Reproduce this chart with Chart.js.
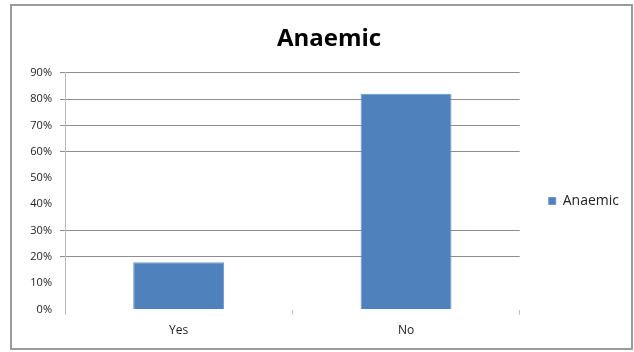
<!DOCTYPE html>
<html>
<head>
<meta charset="utf-8">
<script src="https://cdn.jsdelivr.net/npm/chart.js@4/dist/chart.umd.min.js"></script>
<style>
  html, body { margin: 0; padding: 0; background: #fff; }
  #wrap { position: relative; width: 634px; height: 352px; }
</style>
</head>
<body>
<div id="wrap"><canvas id="c" width="634" height="352"></canvas></div>
<script>
// Chart data
const categories = ['Yes', 'No'];
const anaemicShare = [18, 82];      // percent of respondents
const seriesName = 'Anaemic';
const yTicks = [0, 10, 20, 30, 40, 50, 60, 70, 80, 90];
const gridLevels = [20, 30, 60, 70, 80, 90];   // levels that carry a gridline

const FONT = "'Open Sans', 'Liberation Sans', sans-serif";

// Frame around the whole chart
const framePlugin = {
  id: 'frame',
  beforeDraw(chart) {
    const ctx = chart.ctx;
    ctx.save();
    ctx.fillStyle = '#fff';
    ctx.fillRect(0, 0, chart.width, chart.height);
    ctx.strokeStyle = '#9a9a9a';
    ctx.lineWidth = 2;
    ctx.strokeRect(11, 5, 621, 344);
    ctx.restore();
  }
};

new Chart(document.getElementById('c'), {
  type: 'bar',
  data: {
    labels: categories,
    datasets: [{
      label: seriesName,
      data: anaemicShare,
      backgroundColor: '#4f81bd',
      borderColor: '#6e98cb',
      borderWidth: 1,
      barPercentage: 0.4,
      categoryPercentage: 1.0
    }]
  },
  options: {
    responsive: false,
    animation: false,
    devicePixelRatio: 1,
    layout: { padding: { left: 29, right: 5, top: 0, bottom: 5 } },
    plugins: {
      title: {
        display: true,
        text: 'Anaemic',
        color: '#000',
        font: { family: FONT, size: 24, weight: 'bold' },
        padding: { top: 25, bottom: 19 }
      },
      legend: {
        display: true,
        position: 'right',
        align: 'center',
        // empty heading keeps the legend entry level with the plot's middle
        title: { display: true, text: '', font: { size: 10 }, padding: { top: 0, bottom: 43 } },
        labels: {
          boxWidth: 7,
          boxHeight: 7,
          padding: 29,
          color: '#222',
          font: { family: FONT, size: 14 }
        }
      },
      tooltip: { enabled: false }
    },
    scales: {
      x: {
        offset: true,
        grid: {
          offset: true,
          drawOnChartArea: false,
          drawTicks: true,
          tickLength: 5,
          color: '#bcbcbc'
        },
        border: { display: false },
        ticks: {
          color: '#222',
          font: { family: FONT, size: 12 },
          padding: 9
        }
      },
      y: {
        min: 0,
        max: 90,
        afterBuildTicks(scale) {
          scale.ticks = yTicks.map(v => ({ value: v }));
        },
        afterFit(scale) { scale.width = 36; },
        grid: {
          tickLength: 5,
          color: ctx => gridLevels.includes(ctx.tick && ctx.tick.value) ? '#8e8e8e' : 'rgba(0,0,0,0)'
        },
        border: { display: true, color: '#bcbcbc', width: 1 },
        ticks: {
          color: '#222',
          font: { family: FONT, size: 11 },
          padding: 8,
          callback: v => v + '%'
        }
      }
    }
  },
  plugins: [framePlugin]
});
</script>
</body>
</html>
